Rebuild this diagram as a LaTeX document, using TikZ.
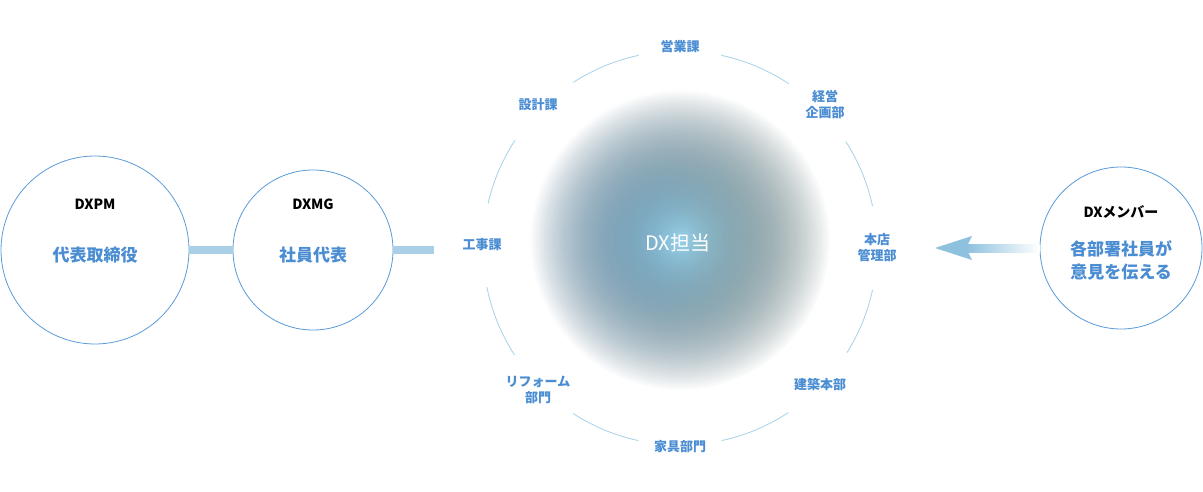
\documentclass[tikz,border=0pt]{standalone}
\usepackage{fontspec}
\setmainfont{Noto Sans CJK JP}
\usetikzlibrary{fadings,positioning}
\definecolor{lblue}{HTML}{4A8DD2}
\definecolor{ringc}{HTML}{A6D2E8}
\definecolor{barc}{HTML}{A9D0E6}
\definecolor{arrc}{HTML}{8EC1DE}
\definecolor{edgec}{HTML}{5C9BDA}
\tikzfading[name=blobfade,inner color=transparent!0,outer color=transparent!100]

\begin{document}
\begin{tikzpicture}[x=1pt,y=-1pt,
    person/.style={circle,draw=edgec,line width=0.8pt,fill=white,inner sep=0pt},
    dept/.style={circle,fill=white,minimum size=84pt,inner sep=0pt,align=center,
      text=lblue,font=\fontsize{13}{16}\selectfont\bfseries},
    role/.style={text=black,font=\fontsize{14}{17}\selectfont\bfseries},
    duty/.style={text=lblue,font=\fontsize{17}{23}\selectfont\bfseries,align=center},
    bar/.style={draw=barc,line width=8pt}]
    \useasboundingbox (0,0) rectangle (1203,492);
    % centre blob and ring
    \fill[left color=blue!40!cyan!50!white,right color=teal!30!white,
      path fading=blobfade] (680,240) circle (150);
    \draw[ringc,line width=0.8pt] (680,248) circle (197);
    \node[text=white,font=\fontsize{20}{24}\selectfont] (dx) at (678,243) {DX担当};
    % departments on the ring
    \node[dept] (eigyo)  at (680,47)  {営業課};
    \node[dept] (keiei)  at (825,105) {経営\\企画部};
    \node[dept] (honten) at (877,248) {本店\\管理部};
    \node[dept] (kenchi) at (820,385) {建築本部};
    \node[dept] (kagu)   at (680,447) {家具部門};
    \node[dept] (reform) at (538,390) {リフォーム\\部門};
    \node[dept] (koji)   at (482,245) {工事課};
    \node[dept] (sekkei) at (538,105) {設計課};
    % people
    \node[person,minimum size=188pt] (pm) at (95,250) {};
    \node[person,minimum size=160pt] (mg) at (313,250) {};
    \node[person,minimum size=162pt] (mem) at (1121,248) {};
    \node[role] at (95,204) {DXPM};
    \node[duty] at (95,255) {代表取締役};
    \node[role] at (313,204) {DXMG};
    \node[duty] at (313,255) {社員代表};
    \node[role] at (1121,212) {DXメンバー};
    \node[duty] at (1121,260) {各部署社員が\\意見を伝える};
    % links
    \draw[bar] (pm.east) -- (mg.west);
    \draw[bar] (mg.east) -- (434,250);
    \coordinate (tip) at (935,248);
    \shade[left color=arrc,right color=white] (966,244) rectangle (mem.west |- 0,252);
    \fill[arrc] (tip) -- (972,236) -- (966,248) -- (972,260) -- cycle;
\end{tikzpicture}
\end{document}
